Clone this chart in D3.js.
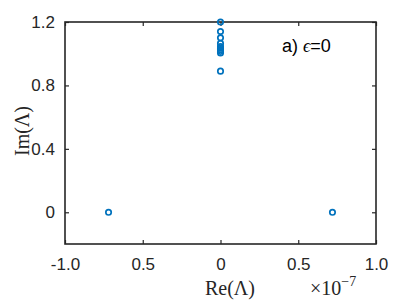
<!DOCTYPE html>
<html><head><meta charset="utf-8">
<script src="https://cdn.jsdelivr.net/npm/d3@7"></script>
<style>body{margin:0;background:#fff}svg{display:block}</style>
</head><body>
<svg id="c" width="415" height="301"></svg>
<script>
const reVals = [-0.72, 0.72, 0, 0, 0, 0, 0, 0, 0, 0, 0, 0];
const imVals = [0, 0, 1.2, 1.14, 1.10, 1.065, 1.045, 1.035, 1.025, 1.015, 1.005, 0.89];
const xTicks = [-1, -0.5, 0, 0.5, 1];
const xTickLabels = ["-1.0", "0.5", "0", "0.5", "1.0"];
const yTicks = [0, 0.4, 0.8, 1.2];
const yTickLabels = ["0", "0.4", "0.8", "1.2"];

const svg = d3.select("#c");
const L = 65, R = 376, T = 22, B = 244;
const x = d3.scaleLinear().domain([-1, 1]).range([L, R]);
const y = d3.scaleLinear().domain([-0.2, 1.2]).range([B, T]);
const ax = "#262626";
const font = "Helvetica, Arial, 'Liberation Sans', sans-serif";
const serif = "'Latin Modern Roman','DejaVu Serif','Liberation Serif',serif";

const gx = svg.append("g").attr("transform", `translate(0,${B})`)
  .call(d3.axisBottom(x).tickValues(xTicks).tickSizeInner(-4).tickSizeOuter(0).tickPadding(14)
    .tickFormat((d,i)=>xTickLabels[i]));
const gxt = svg.append("g").attr("transform", `translate(0,${T})`)
  .call(d3.axisTop(x).tickValues(xTicks).tickSizeInner(-4).tickSizeOuter(0).tickFormat(""));
const gy = svg.append("g").attr("transform", `translate(${L},0)`)
  .call(d3.axisLeft(y).tickValues(yTicks).tickSizeInner(-4).tickSizeOuter(0).tickPadding(10)
    .tickFormat((d,i)=>yTickLabels[i]));
const gyr = svg.append("g").attr("transform", `translate(${R},0)`)
  .call(d3.axisRight(y).tickValues(yTicks).tickSizeInner(-4).tickSizeOuter(0).tickFormat(""));
[gx,gxt,gy,gyr].forEach(g=>{
  g.select(".domain").remove();
  g.selectAll("line").attr("stroke", ax).attr("stroke-width", 1.2);
  g.selectAll("text").attr("fill", ax).style("font-family", font).style("font-size","17px");
});
svg.append("rect").attr("x", L).attr("y", T).attr("width", R-L).attr("height", B-T)
  .attr("fill","none").attr("stroke", ax).attr("stroke-width", 1.6);

svg.append("g").selectAll("circle").data(reVals).join("circle")
  .attr("cx", (d)=>x(d)).attr("cy", (d,i)=>y(imVals[i])).attr("r", 2.7)
  .attr("fill","none").attr("stroke","#0072BD").attr("stroke-width",1.7);

svg.append("text").attr("x", 230).attr("y", 295).attr("text-anchor","middle")
  .style("font-family","'Liberation Serif',serif").style("font-size","20px").attr("fill", ax)
  .text("Re(Λ)");
const t = svg.append("text").attr("x", 310).attr("y", 295)
  .style("font-family","'Liberation Serif',serif").style("font-size","20px").attr("fill", ax);
t.append("tspan").text("×10");
t.append("tspan").attr("dy",-9).style("font-size","14px").text("−7");
svg.append("text").attr("transform","translate(29,131) rotate(-90)").attr("text-anchor","middle")
  .style("font-family","'Liberation Serif',serif").style("font-size","20px").attr("fill", ax)
  .text("Im(Λ)");
const a = svg.append("text").attr("x", 282).attr("y", 52)
  .style("font-family",font).style("font-size","18px").attr("fill", "#000");
a.append("tspan").text("a)  ");
a.append("tspan").style("font-family","'Liberation Serif',serif").style("font-style","italic").text("ϵ");
a.append("tspan").text("=0");
</script>
</body></html>
